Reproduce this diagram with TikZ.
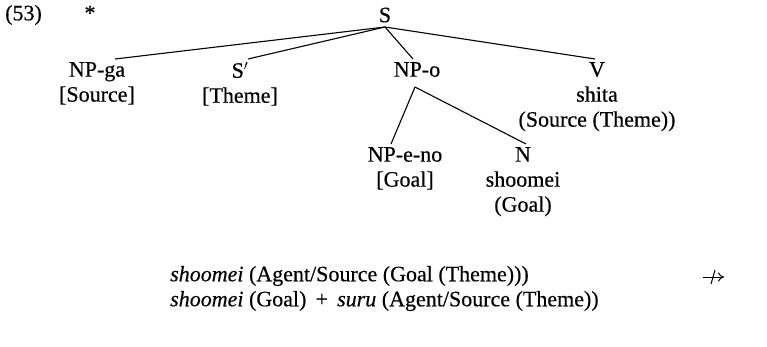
\documentclass[tikz,border=0pt]{standalone}
\usepackage{fontspec}
\setmainfont{Liberation Serif}[FakeBold=0.4]
\usetikzlibrary{arrows.meta}
\begin{document}
\begin{tikzpicture}[x=1pt,y=-1pt,
  lab/.style={inner sep=0pt,align=center,font=\fontsize{22}{25}\selectfont},
  edge/.style={line width=1.1pt}]
\useasboundingbox (0,0) rectangle (767,346);
\node[lab,anchor=west] (num) at (5,15) {(53)};
\node[lab] (star) at (90,13) {*};
\node[lab] (S) at (385,15) {S};
\node[lab,anchor=north] (npga) at (97,62) {NP-ga\\{[}Source{]}};
\node[lab,anchor=north] (sp) at (240,62) {S$'$\\{[}Theme{]}};
\node[lab,anchor=north] (npo) at (417,62) {NP-o};
\node[lab,anchor=north] (v) at (597,62) {V\\shita\\(Source (Theme))};
\node[lab,anchor=north] (npeno) at (405,147) {NP-e-no\\{[}Goal{]}};
\node[lab,anchor=north] (n) at (523,147) {N\\shoomei\\(Goal)};
\node[lab,anchor=west] (l1) at (170,276) {\textit{shoomei} (Agent/Source (Goal (Theme)))};
\node[lab,anchor=west] (l2) at (170,301) {\textit{shoomei} (Goal) \,+\, \textit{suru} (Agent/Source (Theme))};
\coordinate (ar1) at (703,277);
\coordinate (ar2) at (724,277);
\draw[line width=1pt,-{To[length=6pt,width=9pt]}] (ar1) -- (ar2);
\draw[line width=1pt] (711,284) -- (715,270);
\coordinate (Sb) at (385,27);
\draw[edge] (Sb) -- ([xshift=18pt,yshift=3pt]npga.north);
\draw[edge] (Sb) -- ([xshift=8pt,yshift=3pt]sp.north);
\draw[edge] (Sb) -- ([xshift=-4pt,yshift=3pt]npo.north);
\draw[edge] (Sb) -- ([xshift=-2pt,yshift=3pt]v.north);
\coordinate (NPb) at ([yshift=-10pt,xshift=-2pt]npo.south);
\draw[edge] (NPb) -- ([xshift=-14pt,yshift=3pt]npeno.north);
\draw[edge] (NPb) -- ([xshift=3pt,yshift=3pt]n.north);
\end{tikzpicture}
\end{document}
